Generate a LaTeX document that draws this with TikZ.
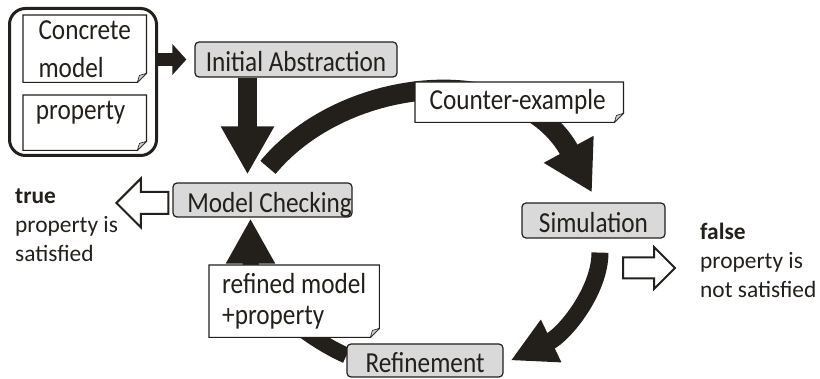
\documentclass[tikz,border=0pt]{standalone}
\usepackage{fontspec}
\setmainfont{Carlito}
\newfontfamily\boxfont{Carlito}[FakeStretch=0.87]
\usetikzlibrary{arrows.meta,positioning,shapes.arrows}
\definecolor{ink}{RGB}{35,31,26}
\definecolor{boxgray}{RGB}{217,217,217}
\pgfdeclarelayer{background}
\pgfsetlayers{background,main}

\begin{document}
\begin{tikzpicture}[
    x=1pt, y=-1pt,
    stage/.style={rectangle, draw=ink, line width=1.2pt, rounded corners=4pt, fill=boxgray, text=ink, inner sep=0pt,
        font=\boxfont\fontsize{29}{34}\selectfont, text height=25pt, text depth=0pt, minimum height=35pt, minimum width=#1},
    stage/.default=150pt,
    note/.style={rectangle, anchor=north west, inner xsep=13pt, inner ysep=0pt, align=left, text=ink,
        font=\boxfont\fontsize{29}{31}\selectfont},
    side/.style={align=left, inner sep=0pt, text=ink, font=\fontsize{23.4}{29}\selectfont},
    fat/.style={draw=ink, line width=#1, line cap=butt},
    hollow/.style={single arrow, draw=ink, line width=2pt, fill=white, inner xsep=0pt, single arrow head indent=0pt}
]
\useasboundingbox (0,0) rectangle (820,379);

% inputs: concrete model and property
\node[draw=ink, line width=3pt, rounded corners=16pt, minimum width=147pt, minimum height=147pt] (inputs) at (83,82) {};
\node[note, minimum width=123pt, minimum height=67pt] (concrete) at (23,15) {Concrete\\[7pt]model};
\node[note, inner xsep=6pt, minimum width=123pt, minimum height=55pt] (prop) at (23,95) {\raisebox{24pt}{property}\hspace*{8pt}};

% stages of the loop
\node[stage=202pt] (init) at (296,59.5) {Initial Abstraction};
\node[stage=179pt, minimum height=34pt] (check) at (262.5,200) {\hspace*{7pt}Model Checking\hspace*{-7pt}};
\node[stage=143pt] (sim) at (593.5,220.5) {Simulation};
\node[stage=156pt, minimum height=33pt] (refine) at (425,360.5) {Refinement};

% notes on the loop
\node[note, minimum width=208pt, minimum height=40pt] (counter) at (415,82) {Counter-example\hspace*{3pt}};
\node[note, minimum width=164pt, minimum height=72pt] (refined) at (209,265) {refined model\\+property};

% verdicts
\node[hollow, shape border rotate=180, minimum height=52pt, inner ysep=10pt, minimum width=47pt, single arrow head extend=13.5pt, anchor=tip] (yes) at (115,203) {};
\node[hollow, minimum height=52pt, inner ysep=9.5pt, minimum width=40pt, single arrow head extend=10.5pt, anchor=tail] (no) at (622,268) {};
\node[side, anchor=base west] (truelbl) at (15,262) {\textbf{true}\\property is\\satisfied};
\node[side, anchor=base west] (falselbl) at (700,298) {\textbf{false}\\property is\\not satisfied};

% straight arrows
\draw[fat=13pt, -{Triangle[length=14pt,width=30pt]}] (inputs.east |- init.west) -- ([xshift=-8pt]init.west);
\draw[fat=19pt, -{Triangle[length=48pt,width=50pt]}] ([xshift=-48.5pt]init.south) -- ([xshift=-15pt,yshift=8pt]check.north);

\begin{pgfonlayer}{background}
% the loop
\draw[fat=20pt, -{Triangle[length=49pt,width=53pt]}] ([xshift=5.5pt,yshift=15pt]check.north)
    .. controls +(77,-93) and +(-72,-133) .. ([xshift=-1.5pt,yshift=10pt]sim.north);
\draw[fat=17pt, -{Triangle[length=45pt,width=44pt]}] ([xshift=6.5pt,yshift=-14pt]sim.south)
    .. controls +(0,38) and +(54,-26) .. ([xshift=7pt]refine.east);
\draw[fat=16pt, -{Triangle[length=45pt,width=46pt]}] ([yshift=5pt]refine.west)
    .. controls +(-45,-20) and +(0,72) .. ([xshift=-12pt,yshift=-1pt]check.south);

% note sheets with folded corner
\foreach \n in {concrete,prop,counter,refined}{
    \filldraw[fill=white, draw=ink, line width=1.2pt] (\n.north west) -- (\n.north east) -- ([yshift=9pt]\n.south east)
        -- ([xshift=-9pt]\n.south east) -- (\n.south west) -- cycle;
    \filldraw[fill=gray!40, draw=ink, line width=0.6pt] ([yshift=9pt]\n.south east) -- ([xshift=-9pt]\n.south east)
        -- ([xshift=-7pt,yshift=7pt]\n.south east) -- cycle;
}
\end{pgfonlayer}
\end{tikzpicture}
\end{document}
